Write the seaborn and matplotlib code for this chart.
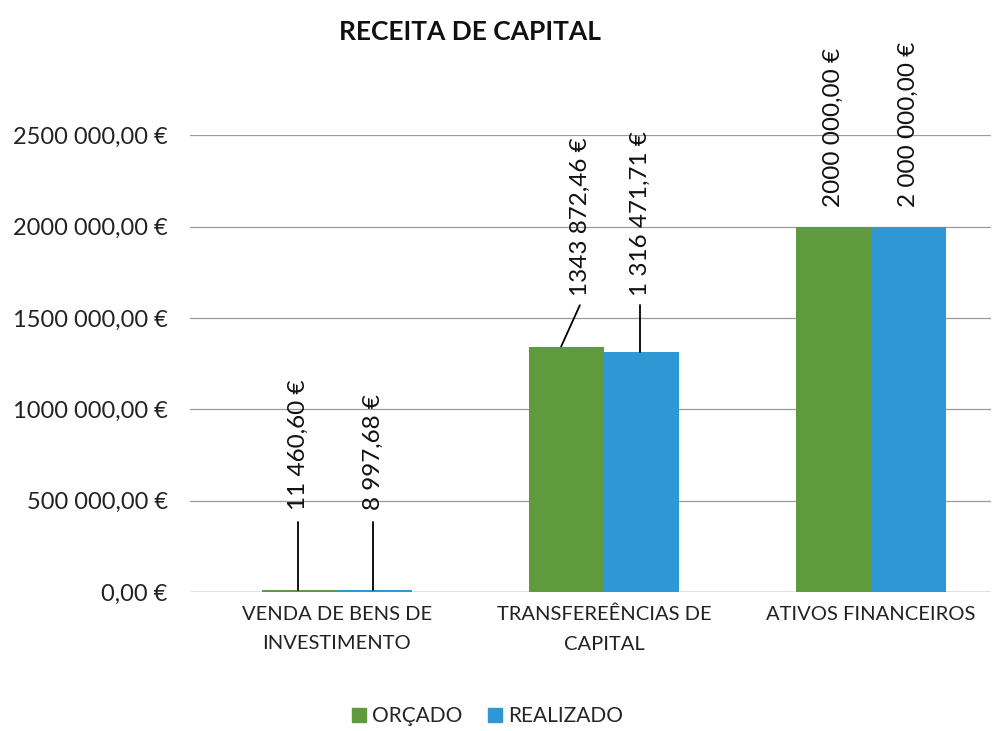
import numpy as np
import pandas as pd
import matplotlib
matplotlib.use('Agg')
import matplotlib.pyplot as plt
import matplotlib.transforms as mtransforms
from matplotlib.patches import Patch
import seaborn as sns

sns.set_theme(style='white')
plt.rcParams['font.family'] = ['Lato', 'DejaVu Sans']

categories = ['VENDA DE BENS DE\nINVESTIMENTO', 'TRANSFEREÊNCIAS DE\nCAPITAL', 'ATIVOS FINANCEIROS']
orcado = [11460.60, 1343872.46, 2000000.00]
realizado = [8997.68, 1316471.71, 2000000.00]
orcado_labels = ['11 460,60 €', '1343 872,46 €', '2000 000,00 €']
realizado_labels = ['8 997,68 €', '1 316 471,71 €', '2 000 000,00 €']
yticks = [0, 500000, 1000000, 1500000, 2000000, 2500000]
ytick_labels = ['0,00 €', '500 000,00 €', '1000 000,00 €', '1500 000,00 €', '2000 000,00 €', '2500 000,00 €']

green = '#5f9b3c'
blue = '#2f98d4'

df = pd.DataFrame({
    'cat': categories * 2,
    'serie': ['ORÇADO'] * 3 + ['REALIZADO'] * 3,
    'valor': orcado + realizado,
})

fig = plt.figure(figsize=(9.95, 7.31), dpi=100)
ax = fig.add_axes([0.191, 0.19, 0.805, 0.625])

sns.barplot(data=df, x='cat', y='valor', hue='serie', palette=[green, blue],
            width=0.56, gap=0, saturation=1, legend=False, linewidth=0, ax=ax)

ax.set_ylim(0, 2500000)
ax.set_xlim(-0.55, 2.45)
ax.set_yticks(yticks)
ax.set_yticklabels(ytick_labels, fontsize=17, color='#222222')
ax.tick_params(axis='y', length=0, pad=16)
ax.set_xticks(range(len(categories)))
ax.set_xticklabels([])
ax.tick_params(axis='x', length=0)
# category labels drawn as text so the line spacing can be set
trans = mtransforms.blended_transform_factory(ax.transData, ax.transAxes)
for i, c in enumerate(categories):
    ax.text(i, -0.03, c, transform=trans, ha='center', va='top', fontsize=14.5,
            color='#222222', linespacing=1.9)
ax.set_xlabel('')
ax.set_ylabel('')
ax.grid(axis='y', color='#9a9a9a', linewidth=0.9)
ax.set_axisbelow(True)
for s in ax.spines.values():
    s.set_visible(False)
ax.axhline(0, color='#9a9a9a', linewidth=1.0, zorder=0)

# data labels: (bar x, label x, leader top y, text bottom y)
label_style = [
    [(-0.145, -0.145, 385000, 450000), (0.135, 0.135, 385000, 450000)],
    [(-0.16, -0.09, 1570000, 1620000), (0.135, 0.135, 1570000, 1620000)],
    [(-0.14, -0.14, None, 2110000), (0.14, 0.14, None, 2110000)],
]
for i in range(3):
    for j, (vals, labs) in enumerate([(orcado, orcado_labels), (realizado, realizado_labels)]):
        bx, tx, ltop, tbot = label_style[i][j]
        if ltop is not None:
            ax.plot([i + bx, i + tx], [vals[i], ltop], color='black', lw=1.3, clip_on=False)
        ax.text(i + tx, tbot, labs[i], rotation=90, ha='center', va='bottom',
                fontsize=17.5, color='#111111', clip_on=False)

fig.text(0.472, 0.956, 'RECEITA DE CAPITAL', ha='center', va='center',
         fontsize=19, fontweight='bold', color='#111111')

handles = [Patch(color=green, label='ORÇADO'), Patch(color=blue, label='REALIZADO')]
fig.legend(handles=handles, loc='center', bbox_to_anchor=(0.49, 0.02), ncol=2,
           frameon=False, fontsize=15, handlelength=0.7, handleheight=0.7,
           handletextpad=0.3, columnspacing=1.2)

plt.savefig('out.png', dpi=100)
